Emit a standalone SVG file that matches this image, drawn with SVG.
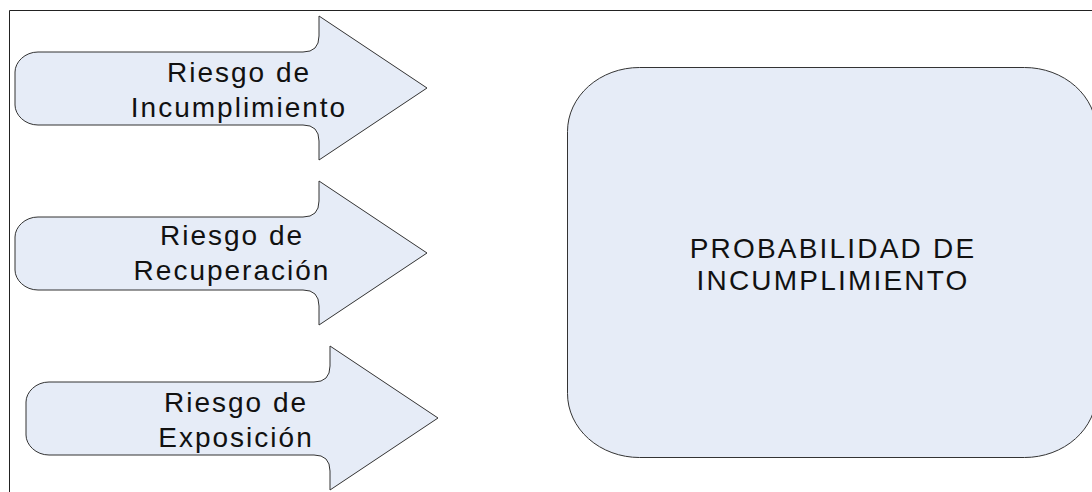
<svg xmlns="http://www.w3.org/2000/svg" xmlns:xlink="http://www.w3.org/1999/xlink" width="1092" height="492" viewBox="0 0 1092 492">
  <style>
    .shape { fill: #e6ecf7; stroke: #333333; stroke-width: 1; }
    .frame { fill: none; stroke: #222222; stroke-width: 1; }
    .lbl { font-family: "Liberation Sans", Arial, sans-serif; font-size: 28px; letter-spacing: 2px; fill: #111111; text-anchor: middle; }
    .big { font-family: "Liberation Sans", Arial, sans-serif; font-size: 28px; letter-spacing: 2.2px; fill: #111111; text-anchor: middle; }
  </style>
  <defs>
    <!-- block arrow with rounded tail and filleted shoulders -->
    <path id="blockArrow" d="M 38,52 L 303,52 Q 319,52 319,36 L 319,16 L 427,88 L 319,160 L 319,141 Q 319,125 303,125 L 38,125 C 25,125 15,115 15,105 L 15,72 C 15,62 25,52 38,52 Z"/>
  </defs>

  <rect width="1092" height="492" fill="#ffffff"/>

  <!-- outer frame (top and left edges) -->
  <path class="frame" d="M 9.5,492 L 9.5,10.5 L 1092,10.5"/>

  <g id="riesgo-incumplimiento">
    <use xlink:href="#blockArrow" class="shape"/>
    <text class="lbl" x="239" y="82">Riesgo de</text>
    <text class="lbl" x="239" y="117">Incumplimiento</text>
  </g>

  <g id="riesgo-recuperacion">
    <use xlink:href="#blockArrow" class="shape" transform="translate(0,165)"/>
    <text class="lbl" x="232" y="245">Riesgo de</text>
    <text class="lbl" x="232" y="280">Recuperación</text>
  </g>

  <g id="riesgo-exposicion">
    <use xlink:href="#blockArrow" class="shape" transform="translate(11,330)"/>
    <text class="lbl" x="236" y="412">Riesgo de</text>
    <text class="lbl" x="236" y="447">Exposición</text>
  </g>

  <g id="probabilidad-incumplimiento">
    <rect class="shape" x="567.5" y="67.5" width="529" height="390" rx="72" ry="64"/>
    <text class="big" x="833" y="258">PROBABILIDAD DE</text>
    <text class="big" x="833" y="290">INCUMPLIMIENTO</text>
  </g>

  <g id="connectors"/>
</svg>
